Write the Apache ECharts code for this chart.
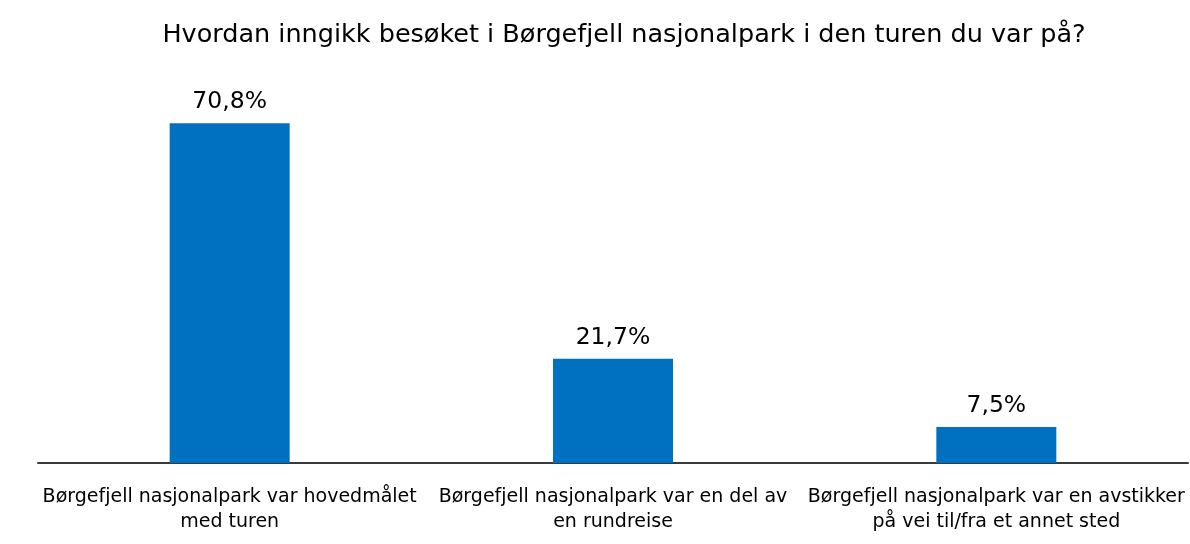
<!DOCTYPE html>
<html><head><meta charset="utf-8">
<script src="https://cdn.jsdelivr.net/npm/echarts@6/dist/echarts.min.js"></script>
<style>html,body{margin:0;padding:0;background:#fff}#c{width:1190px;height:544px}</style>
</head><body><div id="c"></div>
<script>
const title = "Hvordan inngikk besøket i Børgefjell nasjonalpark i den turen du var på?";
const categories = [
  "Børgefjell nasjonalpark var hovedmålet\nmed turen",
  "Børgefjell nasjonalpark var en del av\nen rundreise",
  "Børgefjell nasjonalpark var en avstikker\npå vei til/fra et annet sted"
];
const values = [70.8, 21.7, 7.5];

const font = "'DejaVu Sans', sans-serif";
const chart = echarts.init(document.getElementById('c'));
chart.setOption({
  animation: false,
  title: {text: title, left: 619, top: 17, textAlign: 'center',
    textStyle: {fontFamily: font, fontSize: 25.5, fontWeight: 'normal', color: '#000'}},
  grid: {left: 38, right: 2, top: 79, bottom: 81, containLabel: false},
  xAxis: {type: 'category', data: categories,
    axisLine: {lineStyle: {color: '#3a3a3a', width: 2}},
    axisTick: {show: false},
    axisLabel: {interval: 0, fontFamily: font, fontSize: 19, color: '#000', lineHeight: 25, margin: 22}},
  yAxis: {type: 'value', min: 0, max: 80, show: false, splitLine: {show: false}},
  series: [{type: 'bar', data: values, barWidth: 120,
    itemStyle: {color: '#0070C0'},
    label: {show: true, position: 'top', distance: 9, fontFamily: font, fontSize: 23.5, color: '#000',
      formatter: p => p.value.toFixed(1).replace('.', ',') + '%'}}]
});
</script></body></html>
